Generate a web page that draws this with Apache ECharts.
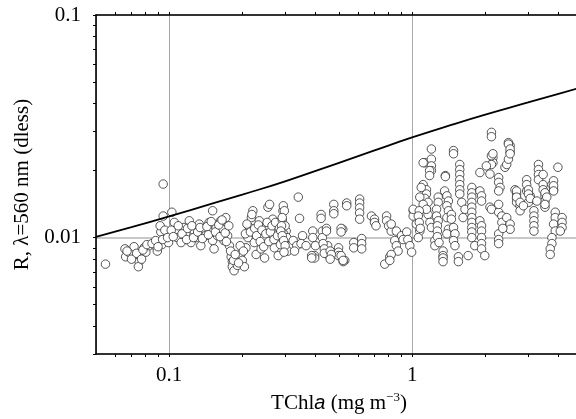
<!DOCTYPE html>
<html><head><meta charset="utf-8">
<script src="https://cdn.jsdelivr.net/npm/echarts@6.0.0/dist/echarts.min.js"></script>
<style>html,body{margin:0;padding:0;background:#fff}#chart{width:576px;height:419px}</style>
</head><body><div id="chart"></div>
<script>
// Axis ranges and ticks
const xRange = [0.05, 5];
const yRange = [0.003, 0.1];
const xTickValues = [0.06,0.07,0.08,0.09,0.1,0.2,0.3,0.4,0.5,0.6,0.7,0.8,0.9,1,2,3,4,5];
const xLabelValues = [0.1, 1];
const yTickValues = [0.003,0.004,0.005,0.006,0.007,0.008,0.009,0.01,0.02,0.03,0.04,0.05,0.06,0.07,0.08,0.09,0.1];
const yLabelValues = [0.01, 0.1];

// Model curve (TChla, R)
const modelChl = [0.05, 0.07, 0.1, 0.15, 0.2, 0.3, 0.5, 0.7, 1, 1.5, 2, 3, 4, 5];
const modelR   = [0.01007, 0.01115, 0.01246, 0.01420, 0.01560, 0.01790, 0.02168, 0.02465, 0.02818, 0.03245, 0.03567, 0.04047, 0.04426, 0.04739];

// Observations [TChla, R]
const obsLowChl = [
 [0.0547,0.0076],[0.0945,0.0174],[0.0658,0.0089],[0.0662,0.0082],[0.0689,0.0085],[0.0717,0.0091],[0.0724,0.0081],
 [0.0752,0.0078],[0.0747,0.0074],[0.0764,0.0083],[0.0789,0.0090],[0.0802,0.0086],[0.0827,0.0092],[0.0875,0.0092],
 [0.0894,0.0087],[0.0909,0.0095],[0.0933,0.0093],[0.0954,0.0100],[0.0975,0.0104],[0.0994,0.0095],[0.0924,0.0106],
 [0.0918,0.0113],[0.0945,0.0125],[0.1026,0.0130],[0.0671,0.0087],[0.0700,0.0080],[0.0735,0.0085],[0.0770,0.0080],
 [0.0780,0.0088],[0.0810,0.0093],[0.0850,0.0094],[0.0880,0.0097],[0.0900,0.0091],[0.0940,0.0098],[0.0960,0.0108],[0.0985,0.0100]
];
const obsBand = [
 [0.105,0.0117],[0.107,0.0107],[0.108,0.0100],[0.112,0.0095],[0.115,0.0111],[0.117,0.0104],[0.121,0.0119],[0.123,0.0095],
 [0.127,0.0107],[0.129,0.0100],[0.133,0.0115],[0.135,0.0092],[0.139,0.0109],[0.141,0.0102],[0.146,0.0117],[0.148,0.0106],
 [0.151,0.0132],[0.151,0.0097],[0.153,0.0089],[0.156,0.0111],[0.158,0.0102],[0.163,0.0119],[0.166,0.0109],[0.168,0.0097],
 [0.171,0.0123],[0.174,0.0102],[0.177,0.0092],[0.180,0.0082],[0.182,0.0078],[0.182,0.0074],[0.185,0.0071],[0.188,0.0081],
 [0.191,0.0075],[0.197,0.0084],[0.200,0.0079],[0.204,0.0074],[0.207,0.0090],[0.211,0.0100],[0.214,0.0111],[0.218,0.0123],
 [0.221,0.0132],[0.224,0.0095],[0.228,0.0084],[0.231,0.0107],[0.235,0.0119],[0.239,0.0089],[0.243,0.0100],[0.247,0.0081],
 [0.255,0.0137],[0.259,0.0111],[0.263,0.0100],[0.267,0.0121],[0.271,0.0090],[0.276,0.0106],[0.281,0.0083],[0.289,0.0115],
 [0.294,0.0132],[0.298,0.0097],[0.303,0.0107],[0.308,0.0087],
 [0.102,0.0108],[0.104,0.0101],[0.109,0.0113],[0.113,0.0104],[0.118,0.0098],[0.119,0.0110],[0.124,0.0113],[0.126,0.0100],
 [0.131,0.0106],[0.134,0.0111],[0.137,0.0099],[0.143,0.0112],[0.145,0.0103],[0.149,0.0118],[0.155,0.0106],[0.160,0.0114],
 [0.162,0.0101],[0.165,0.0120],[0.170,0.0105],[0.172,0.0096],[0.176,0.0113],[0.179,0.0087],[0.184,0.0079],[0.187,0.0084],
 [0.193,0.0077],[0.196,0.0092],[0.202,0.0087],[0.206,0.0104],[0.209,0.0115],[0.216,0.0106],[0.219,0.0127],[0.225,0.0110],
 [0.229,0.0102],[0.233,0.0114],[0.237,0.0096],[0.241,0.0108],[0.245,0.0091],[0.250,0.0104],[0.253,0.0117],[0.257,0.0096],
 [0.261,0.0106],[0.265,0.0113],[0.270,0.0098],[0.274,0.0117],[0.279,0.0102],[0.284,0.0110],[0.287,0.0093],[0.292,0.0120],
 [0.296,0.0104],[0.300,0.0113],[0.305,0.0100],[0.259,0.0141]
];
const obsMidChl = [
 [0.295,0.0139],[0.298,0.0132],[0.292,0.0123],[0.290,0.0113],[0.288,0.0107],[0.292,0.0102],[0.296,0.0097],[0.300,0.0092],[0.297,0.0086],
 [0.340,0.0152],[0.344,0.0122],[0.324,0.0097],[0.335,0.0092],[0.328,0.0087],[0.354,0.0102],[0.349,0.0094],[0.366,0.0092],
 [0.397,0.0083],[0.397,0.0081],[0.422,0.0127],[0.422,0.0122],[0.427,0.0107],[0.427,0.0100],[0.444,0.0110],[0.444,0.0107],
 [0.449,0.0092],[0.449,0.0084],[0.476,0.0141],[0.476,0.0132],[0.476,0.0128],[0.498,0.0090],[0.498,0.0086],[0.498,0.0083],
 [0.518,0.0109],[0.528,0.0079],[0.538,0.0143],[0.538,0.0139],[0.575,0.0095],[0.575,0.0090],
 [0.608,0.0149],[0.608,0.0143],[0.608,0.0136],[0.608,0.0129],[0.608,0.0121],[0.620,0.0099],[0.620,0.0094],[0.620,0.0089],
 [0.68,0.0125],[0.70,0.0121],[0.70,0.0117],[0.71,0.0113],[0.785,0.0125],[0.785,0.0119],[0.80,0.0113],[0.82,0.0107],[0.82,0.0115],
 [0.848,0.0097],[0.861,0.0092],[0.875,0.0087],[0.861,0.0107],[0.904,0.0102],[0.918,0.0098],
 [0.771,0.0076],[0.809,0.0082],[0.82,0.0084],[0.809,0.0079],[0.95,0.0106],[0.96,0.0098],[0.978,0.0092],[0.995,0.0086],
 [1.01,0.0132],[1.01,0.0125],[0.386,0.0083],[0.386,0.0081],[0.52,0.0078],[0.51,0.0110],[0.51,0.0106],
 [0.39,0.0107],[0.39,0.0100],[0.40,0.0092],[0.43,0.0094],[0.435,0.0089],[0.435,0.0085],[0.46,0.0087],[0.465,0.0084],[0.46,0.0080],
 [0.51,0.0083],[0.52,0.0079]
];
const obsHighChl = [
 [1.04,0.0115],[1.075,0.0107],[1.06,0.0100],[1.128,0.0217],[1.20,0.0250],[1.20,0.0225],[1.20,0.0210],[1.20,0.0200],
 [1.11,0.0173],[1.145,0.0164],[1.145,0.0157],[1.128,0.0150],[1.163,0.0144],[1.145,0.0134],[1.163,0.0127],
 [1.183,0.0117],[1.20,0.0111],[1.24,0.0097],[1.24,0.0092],[1.28,0.0152],[1.28,0.0144],[1.26,0.0134],[1.26,0.0125],[1.28,0.0119],
 [1.36,0.0162],[1.39,0.0154],[1.41,0.0146],[1.39,0.0139],[1.41,0.0132],[1.39,0.0123],[1.41,0.0109],[1.39,0.0104],
 [1.34,0.0087],[1.34,0.0083],[1.34,0.0081],[1.34,0.0078],[1.48,0.0246],[1.48,0.0238],[1.37,0.0190],[1.37,0.0188],
 [1.45,0.0127],[1.45,0.0121],[1.48,0.0111],[1.50,0.0104],[1.48,0.0097],[1.50,0.0092],[1.55,0.0082],[1.55,0.0078],
 [1.57,0.0213],[1.57,0.0202],[1.57,0.0192],[1.57,0.0182],[1.57,0.0173],[1.57,0.0164],[1.57,0.0157],
 [1.60,0.0144],[1.65,0.0134],[1.62,0.0123],
 [1.76,0.0168],[1.76,0.0159],[1.76,0.0152],[1.76,0.0144],[1.76,0.0137],[1.76,0.0130],[1.76,0.0123],[1.76,0.0117],[1.76,0.0111],[1.76,0.0106],[1.76,0.0100],
 [1.70,0.0083],[1.81,0.0092],[1.90,0.0162],[1.93,0.0154],[1.93,0.0146],[1.90,0.0119],[1.93,0.0113],[1.93,0.0107],[1.93,0.0100],
 [1.93,0.0094],[1.93,0.0089],[1.99,0.0083],[1.90,0.0196],[2.09,0.0193],[2.15,0.0229],[2.15,0.0217],[2.12,0.0233],
 [2.09,0.0137],[2.12,0.0134],[2.27,0.0130],[2.27,0.0141],[2.12,0.0297],[2.12,0.0284],
 [2.27,0.0186],[2.27,0.0177],[2.30,0.0168],[2.27,0.0162],[2.34,0.0125],[2.34,0.0117],[2.45,0.0123],
 [2.41,0.0207],[2.45,0.0213],[2.49,0.0225],[2.53,0.0242],[2.53,0.0259],[2.49,0.0267],[2.49,0.0263],[2.53,0.0250],[2.53,0.0238],
 [2.53,0.0115],[2.53,0.0109],[2.65,0.0164],[2.69,0.0157],[2.69,0.0150],[2.69,0.0144],[2.78,0.0139],[2.78,0.0132],
 [2.96,0.0162],[3.06,0.0154],[3.01,0.0144],[3.17,0.0132],[3.17,0.0125],[3.17,0.0119],[3.17,0.0113],[3.17,0.0107],
 [3.31,0.0213],[3.31,0.0202],[3.31,0.0192],[3.31,0.0182],[3.46,0.0192],[3.46,0.0173],[3.46,0.0164],[3.52,0.0154],[3.52,0.0146],[3.52,0.0137],
 [3.76,0.0173],[3.82,0.0164],[3.98,0.0207],
 [3.88,0.0130],[3.88,0.0123],[3.82,0.0115],[3.88,0.0107],[3.76,0.0100],[3.76,0.0094],[3.70,0.0089],[3.70,0.0084],
 [4.14,0.0123],[4.14,0.0117],[4.14,0.0111],[4.07,0.0107],
 [2.15,0.0238],[2.12,0.0213],[1.11,0.0217],[1.18,0.0200],[1.18,0.0190],[2.02,0.0210],
 [2.96,0.0182],[2.96,0.0173],[3.01,0.0164],[3.01,0.0157],[3.06,0.0150],[3.26,0.0146],[3.52,0.0159],[3.58,0.0152],[3.52,0.0141],
 [3.82,0.0180],[3.82,0.0171],[3.82,0.0162],[2.69,0.0162],[2.69,0.0152],[2.78,0.0144],[2.87,0.0139],
 [1.01,0.0134],[1.09,0.0168],[1.075,0.0152],[1.11,0.0141],[1.145,0.0134],
 [1.07,0.0132],[1.06,0.0125],[1.07,0.0117],[1.08,0.0110],[1.27,0.0113],[1.27,0.0107],[1.27,0.0101],[1.29,0.0095],
 [2.27,0.0104],[2.27,0.0098],[2.27,0.0094],[2.36,0.0110]
];

const serif = 'Liberation Serif';
const chart = echarts.init(document.getElementById('chart'), null, {renderer: 'canvas'});
const baseAxis = {
  type: 'log', logBase: 10,
  axisLine: {show: true, onZero: false, lineStyle: {color: '#000', width: 1.6}},
  splitLine: {show: false}
};
const option = {
  animation: false,
  backgroundColor: '#fff',
  grid: {left: 96, top: 15, right: -6, bottom: 65, containLabel: false, outerBoundsMode: 'none'},
  xAxis: [
    Object.assign({}, baseAxis, {
      position: 'bottom', min: xRange[0], max: xRange[1],
      axisTick: {show: true, inside: false, length: 3, customValues: xTickValues, lineStyle: {color: '#000', width: 1}},
      axisLabel: {show: true, customValues: xLabelValues, margin: 11, color: '#000', fontFamily: serif, fontSize: 21},
      name: '{r|TChl}{i|a}{r| (mg m}{s|−3}{r|)}',
      nameLocation: 'middle', nameGap: 33,
      nameTextStyle: {color: '#000', fontFamily: serif, fontSize: 21, rich: {
        r: {fontFamily: serif, fontSize: 21, color: '#000', lineHeight: 26},
        i: {fontFamily: 'Liberation Sans', fontStyle: 'italic', fontSize: 20, color: '#000', lineHeight: 26},
        s: {fontFamily: serif, fontSize: 13, color: '#000', verticalAlign: 'top', lineHeight: 26}
      }}
    }),
    Object.assign({}, baseAxis, {
      position: 'top', min: xRange[0], max: xRange[1],
      axisTick: {show: true, inside: false, length: 3, customValues: xTickValues, lineStyle: {color: '#000', width: 1}},
      axisLabel: {show: false}
    }),
    {
      type: 'log', position: 'bottom', min: xRange[0], max: xRange[1],
      axisLine: {show: false}, axisTick: {show: false}, axisLabel: {show: false},
      splitLine: {show: true, lineStyle: {color: '#a8a8a8', width: 1}}
    }
  ],
  yAxis: [
    Object.assign({}, baseAxis, {
      position: 'left', min: yRange[0], max: yRange[1],
      axisTick: {show: true, inside: false, length: 3, customValues: yTickValues, lineStyle: {color: '#000', width: 1}},
      axisLabel: {show: true, customValues: yLabelValues, margin: 15, color: '#000', fontFamily: serif, fontSize: 21},
      name: 'R, λ=560 nm (dless)',
      nameLocation: 'middle', nameRotate: 90, nameGap: 60,
      nameTextStyle: {color: '#000', fontFamily: serif, fontSize: 21}
    }),
    {
      type: 'log', position: 'left', min: yRange[0], max: yRange[1],
      axisLine: {show: false}, axisTick: {show: false}, axisLabel: {show: false},
      splitLine: {show: true, lineStyle: {color: '#c8c8c8', width: 2}}
    }
  ],
  series: [
    {
      type: 'scatter', xAxisIndex: 0, yAxisIndex: 0,
      data: [].concat(obsLowChl, obsBand, obsMidChl, obsHighChl),
      symbol: 'circle', symbolSize: 8.5, silent: true, z: 3,
      itemStyle: {color: '#ffffff', borderColor: '#2b2b2b', borderWidth: 0.8, opacity: 1}
    },
    {
      type: 'line', xAxisIndex: 0, yAxisIndex: 0,
      data: modelChl.map((c, i) => [c, modelR[i]]),
      smooth: 0.5, showSymbol: false, symbol: 'none', silent: true, z: 4,
      lineStyle: {color: '#000', width: 1.8}
    }
  ]
};
chart.setOption(option);
</script>
</body></html>
